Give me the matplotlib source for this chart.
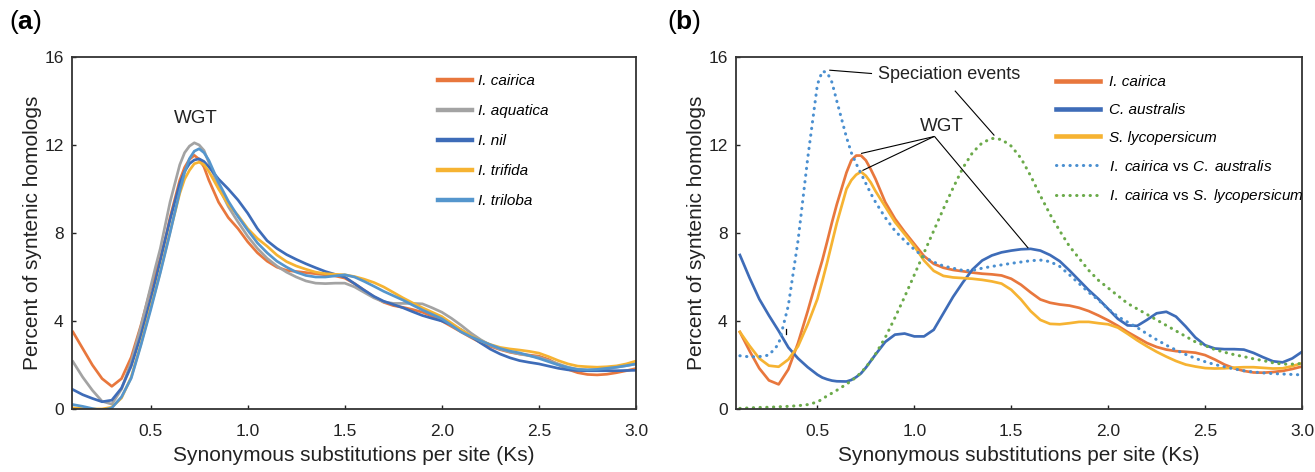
import matplotlib
matplotlib.use('Agg')
import matplotlib.pyplot as plt

plt.rcParams['font.family'] = ['Liberation Sans', 'DejaVu Sans']
plt.rcParams['mathtext.fontset'] = 'custom'
plt.rcParams['mathtext.rm'] = 'Liberation Sans'
plt.rcParams['mathtext.it'] = 'Liberation Sans:italic'
plt.rcParams['mathtext.bf'] = 'Liberation Sans:bold'

# Ks values where the curves were read (denser around the peaks)
ks = [0.1, 0.15, 0.2, 0.25, 0.3, 0.35, 0.4, 0.45, 0.5, 0.525, 0.55, 0.575, 0.6,
      0.65, 0.675, 0.7, 0.725, 0.75, 0.775, 0.8, 0.85, 0.9, 0.95, 1.0,
      1.05, 1.1, 1.15, 1.2, 1.25, 1.3, 1.35, 1.4, 1.45, 1.5,
      1.55, 1.6, 1.65, 1.7, 1.75, 1.8, 1.85, 1.9, 1.95, 2.0,
      2.05, 2.1, 2.15, 2.2, 2.25, 2.3, 2.35, 2.4, 2.45, 2.5,
      2.55, 2.6, 2.65, 2.7, 2.75, 2.8, 2.85, 2.9, 2.95, 3.0]

# panel (a) - Ipomoea species
a_cairica = [3.5, 2.75, 2.0, 1.38, 1.03, 1.38, 2.35, 3.8, 5.45, 6.15, 6.85, 7.7, 8.7,
             10.4, 10.98, 11.35, 11.53, 11.35, 11.0, 10.4, 9.4, 8.7, 8.2, 7.6,
             7.1, 6.72, 6.45, 6.3, 6.25, 6.2, 6.15, 6.1, 6.05, 5.95,
             5.7, 5.4, 5.1, 4.85, 4.7, 4.62, 4.52, 4.4, 4.22, 4.0,
             3.75, 3.5, 3.25, 3.02, 2.85, 2.7, 2.58, 2.5, 2.45, 2.4,
             2.25, 2.02, 1.8, 1.65, 1.57, 1.55, 1.58, 1.65, 1.74, 1.84]
a_aquatica = [2.15, 1.45, 0.85, 0.35, 0.22, 0.9, 2.15, 3.75, 5.55, 6.45, 7.3, 8.35, 9.4,
              11.1, 11.65, 11.95, 12.1, 12.0, 11.75, 11.2, 10.1, 9.2, 8.5, 7.85,
              7.3, 6.85, 6.5, 6.22, 6.0, 5.82, 5.72, 5.7, 5.72, 5.72,
              5.55, 5.3, 5.05, 4.87, 4.8, 4.8, 4.8, 4.78, 4.6, 4.4,
              4.12, 3.8, 3.45, 3.15, 2.9, 2.72, 2.6, 2.5, 2.42, 2.35,
              2.2, 2.05, 1.9, 1.8, 1.77, 1.78, 1.83, 1.9, 1.97, 2.05]
a_nil = [0.88, 0.65, 0.48, 0.33, 0.4, 0.95, 1.95, 3.35, 5.0, 5.85, 6.75, 7.7, 8.6,
         10.25, 10.8, 11.15, 11.32, 11.37, 11.25, 11.0, 10.45, 10.0, 9.5, 8.9,
         8.2, 7.65, 7.3, 7.02, 6.8, 6.6, 6.42, 6.25, 6.12, 6.0,
         5.7, 5.4, 5.12, 4.9, 4.75, 4.6, 4.42, 4.25, 4.12, 4.0,
         3.82, 3.6, 3.3, 3.0, 2.72, 2.5, 2.33, 2.2, 2.12, 2.05,
         1.95, 1.85, 1.78, 1.75, 1.74, 1.74, 1.74, 1.74, 1.75, 1.76]
a_trifida = [0.05, 0.02, 0.0, 0.0, 0.08, 0.5, 1.45, 2.95, 4.6, 5.4, 6.25, 7.15, 8.05,
             9.8, 10.45, 10.85, 11.15, 11.22, 11.1, 10.8, 10.0, 9.3, 8.8, 8.2,
             7.75, 7.4, 7.0, 6.7, 6.5, 6.35, 6.22, 6.15, 6.12, 6.1,
             6.02, 5.9, 5.75, 5.55, 5.3, 5.05, 4.82, 4.6, 4.4, 4.2,
             3.9, 3.6, 3.32, 3.1, 2.93, 2.8, 2.73, 2.68, 2.62, 2.54,
             2.38, 2.2, 2.05, 1.95, 1.92, 1.9, 1.92, 1.96, 2.05, 2.18]
a_triloba = [0.2, 0.12, 0.02, -0.06, 0.05, 0.55, 1.4, 2.9, 4.5, 5.35, 6.2, 7.1, 8.0,
             9.9, 10.75, 11.38, 11.72, 11.83, 11.65, 11.3, 10.3, 9.45, 8.75, 8.13,
             7.55, 7.1, 6.72, 6.45, 6.22, 6.07, 6.0, 6.0, 6.05, 6.1,
             6.0, 5.8, 5.58, 5.35, 5.15, 4.95, 4.72, 4.5, 4.3, 4.1,
             3.8, 3.5, 3.28, 3.1, 2.92, 2.75, 2.63, 2.55, 2.43, 2.3,
             2.15, 2.0, 1.88, 1.8, 1.78, 1.8, 1.85, 1.9, 1.97, 2.05]

# panel (b)
b_cairica = [3.5, 2.64, 1.85, 1.3, 1.12, 1.8, 3.0, 4.45, 6.0, 6.75, 7.6, 8.48, 9.3,
             10.75, 11.3, 11.52, 11.52, 11.3, 10.9, 10.45, 9.4, 8.65, 8.05, 7.5,
             6.95, 6.6, 6.42, 6.32, 6.26, 6.2, 6.15, 6.12, 6.07, 5.92,
             5.65, 5.3, 4.98, 4.83, 4.75, 4.7, 4.6, 4.45, 4.25, 4.03,
             3.78, 3.5, 3.25, 3.0, 2.82, 2.7, 2.63, 2.6, 2.56, 2.45,
             2.25, 2.02, 1.85, 1.73, 1.66, 1.65, 1.68, 1.73, 1.82, 1.93]
b_australis = [7.0, 5.96, 5.0, 4.25, 3.55, 2.8, 2.3, 1.9, 1.56, 1.43, 1.35, 1.29, 1.26,
               1.25, 1.32, 1.45, 1.62, 1.88, 2.18, 2.48, 3.05, 3.38, 3.43, 3.3,
               3.3, 3.6, 4.35, 5.1, 5.75, 6.34, 6.75, 6.98, 7.12, 7.2,
               7.26, 7.28, 7.2, 7.0, 6.72, 6.3, 5.85, 5.4, 5.0, 4.55,
               4.1, 3.8, 3.78, 4.05, 4.35, 4.42, 4.2, 3.75, 3.25, 2.9,
               2.75, 2.72, 2.72, 2.7, 2.55, 2.35, 2.17, 2.12, 2.3, 2.6]
b_lycopersicum = [3.5, 2.87, 2.3, 1.97, 1.92, 2.25, 2.85, 3.85, 5.0, 5.8, 6.65, 7.55, 8.45,
                  10.0, 10.4, 10.65, 10.78, 10.6, 10.3, 9.9, 9.2, 8.5, 7.95, 7.4,
                  6.75, 6.28, 6.05, 5.98, 5.95, 5.92, 5.87, 5.8, 5.7, 5.42,
                  4.98, 4.45, 4.05, 3.87, 3.85, 3.9, 3.96, 3.96, 3.9, 3.85,
                  3.7, 3.42, 3.12, 2.85, 2.6, 2.38, 2.18, 2.02, 1.93, 1.86,
                  1.84, 1.85, 1.88, 1.9, 1.9, 1.87, 1.84, 1.85, 1.95, 2.08]
b_cai_vs_aus = [2.42, 2.37, 2.38, 2.45, 2.95, 4.7, 7.65, 11.4, 14.75, 15.35, 15.3, 14.85, 14.0,
                12.35, 11.65, 11.15, 10.7, 10.25, 9.8, 9.4, 8.7, 8.1, 7.65, 7.25,
                6.9, 6.68, 6.5, 6.4, 6.3, 6.3, 6.4, 6.48, 6.55, 6.62,
                6.68, 6.74, 6.77, 6.7, 6.48, 6.1, 5.7, 5.3, 4.95, 4.55,
                4.2, 3.95, 3.7, 3.42, 3.15, 2.9, 2.68, 2.48, 2.3, 2.15,
                2.02, 1.92, 1.82, 1.74, 1.68, 1.64, 1.61, 1.59, 1.57, 1.55]
b_cai_vs_lyc = [0.03, 0.05, 0.07, 0.08, 0.1, 0.12, 0.15, 0.2, 0.32, 0.45, 0.6, 0.72, 0.85,
                1.13, 1.28, 1.45, 1.65, 1.9, 2.18, 2.5, 3.25, 4.15, 5.1, 6.1,
                7.1, 8.1, 9.1, 10.05, 10.95, 11.65, 12.1, 12.3, 12.25, 11.95,
                11.4, 10.6, 9.7, 8.85, 8.1, 7.4, 6.85, 6.3, 5.85, 5.5,
                5.15, 4.8, 4.55, 4.3, 4.05, 3.8, 3.55, 3.3, 3.05, 2.88,
                2.7, 2.58, 2.47, 2.38, 2.28, 2.2, 2.1, 2.04, 2.04, 2.07]

yticks = [0, 4, 8, 12, 16]
xticks = [0.5, 1.0, 1.5, 2.0, 2.5, 3.0]

c_orange = '#E8773D'
c_gray = '#A3A3A3'
c_blue = '#3E6CB8'
c_yellow = '#F6B332'
c_lblue = '#5596CD'
c_dot = '#4A8FD0'
c_green = '#6BAA4A'

fig = plt.figure(figsize=(13.15, 4.72), dpi=100)
ax1 = fig.add_axes([72 / 1315, 63 / 472, 564 / 1315, 352 / 472])
ax2 = fig.add_axes([736 / 1315, 63 / 472, 566 / 1315, 352 / 472])


def style_axes(ax, xmin):
    ax.set_xlim(xmin, 3.0)
    ax.set_ylim(0, 16)
    ax.set_xticks(xticks)
    ax.set_xticklabels(['%.1f' % t for t in xticks])
    ax.set_yticks(yticks)
    ax.tick_params(direction='in', length=3, width=1, labelsize=12.5, colors='#222222')
    ax.tick_params(axis='x', pad=11)
    ax.tick_params(axis='y', pad=6)
    for s in ax.spines.values():
        s.set_color('#333333')
        s.set_linewidth(1.3)
    ax.set_xlabel('Synonymous substitutions per site (Ks)', fontsize=15, color='#222222', labelpad=5)
    ax.set_ylabel('Percent of syntenic homologs', fontsize=15, color='#222222', labelpad=2)


lw = 1.95
kw = dict(lw=lw, solid_joinstyle='round')
ax1.plot(ks, a_cairica, color=c_orange, label='I. cairica', **kw)
ax1.plot(ks, a_aquatica, color=c_gray, label='I. aquatica', **kw)
ax1.plot(ks, a_nil, color=c_blue, label='I. nil', **kw)
ax1.plot(ks, a_trifida, color=c_yellow, label='I. trifida', **kw)
ax1.plot(ks, a_triloba, color=c_lblue, label='I. triloba', **kw)
style_axes(ax1, 0.095)
leg1 = ax1.legend(loc='upper left', bbox_to_anchor=(0.649, 0.951), frameon=False,
                  prop={'size': 11, 'style': 'italic'}, handlelength=2.2,
                  handletextpad=0.4, labelspacing=1.05, borderpad=0, borderaxespad=0)
for ln in leg1.get_lines():
    ln.set_linewidth(3.2)
ax1.text(0.733, 13.2, 'WGT', fontsize=13.5, ha='center', va='center', color='#222222')

dots = (0, (0.1, 2.1))
ax2.plot(ks, b_cairica, color=c_orange, label='I. cairica', **kw)
ax2.plot(ks, b_australis, color=c_blue, label='C. australis', **kw)
ax2.plot(ks, b_lycopersicum, color=c_yellow, label='S. lycopersicum', **kw)
ax2.plot(ks, b_cai_vs_aus, color=c_dot, lw=2.2, ls=dots, dash_capstyle='round',
         label=r'$\mathit{I.\ cairica}$ vs $\mathit{C.\ australis}$')
ax2.plot(ks, b_cai_vs_lyc, color=c_green, lw=2.2, ls=dots, dash_capstyle='round',
         label=r'$\mathit{I.\ cairica}$ vs $\mathit{S.\ lycopersicum}$')
style_axes(ax2, 0.08)
leg2 = ax2.legend(loc='upper left', bbox_to_anchor=(0.565, 0.948), frameon=False,
                  prop={'size': 11}, handlelength=2.9,
                  handletextpad=0.6, labelspacing=0.9, borderpad=0, borderaxespad=0)
for ln in leg2.get_lines()[:3]:
    ln.set_linewidth(3.3)
for t in leg2.get_texts()[:3]:
    t.set_fontstyle('italic')

# annotations
ax2.plot([0.564, 0.779], [15.4, 15.25], color='black', lw=0.8)
ax2.plot([1.211, 1.411], [14.45, 12.45], color='black', lw=0.8)
ax2.text(0.81, 15.22, 'Speciation events', fontsize=13, ha='left', va='center', color='#222222')
ax2.text(1.143, 12.84, 'WGT', fontsize=13.5, ha='center', va='center', color='#222222')
ax2.plot([1.10, 0.728], [12.38, 11.62], color='black', lw=0.8)
ax2.plot([1.10, 0.735], [12.38, 10.85], color='black', lw=0.8)
ax2.plot([1.105, 1.586], [12.38, 7.33], color='black', lw=0.8)
ax2.plot([0.336, 0.336], [3.4, 3.62], color='black', lw=0.9)

fig.text(9 / 1315, 1 - 22 / 472, r'($\mathbf{a}$)', fontsize=19, va='center', ha='left')
fig.text(667 / 1315, 1 - 22 / 472, r'($\mathbf{b}$)', fontsize=19, va='center', ha='left')

fig.savefig('out.png', dpi=100)
